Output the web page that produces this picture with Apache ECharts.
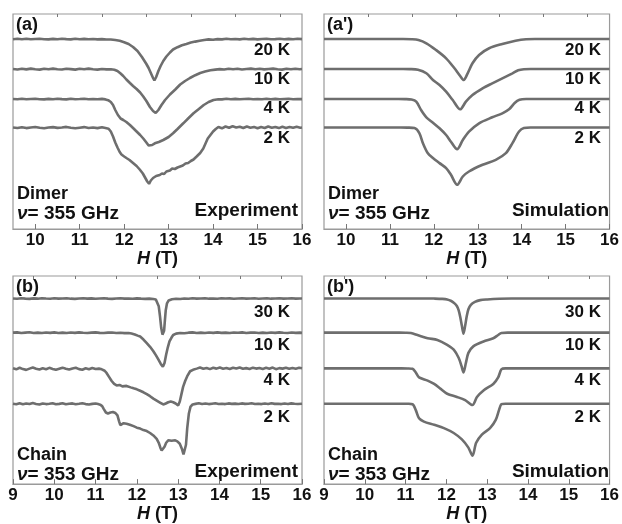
<!DOCTYPE html>
<html><head><meta charset="utf-8">
<script src="https://cdn.jsdelivr.net/npm/echarts@6/dist/echarts.min.js"></script>
<style>html,body{margin:0;padding:0;background:#fff}#c{width:622px;height:524px}</style>
</head><body><div id="c"></div>
<script>
// ---- data: [field H (T), absorption depth (arb.)] ----
const dimerTemps = ['20 K', '10 K', '4 K', '2 K'];
const chainTemps = ['30 K', '10 K', '4 K', '2 K'];
const dimerOffsets = [190, 160, 130, 101.5];
const chainOffsets = [190, 155, 118.5, 82.3];
const dimerTicks = [10, 11, 12, 13, 14, 15, 16];
const chainTicks = [9, 10, 11, 12, 13, 14, 15, 16];

const dimerExp20K = [[9.5,0.2],[9.6,-0.3],[9.7,0.2],[9.8,-0.2],[9.9,0.3],[10,0],[10.1,-0.3],[10.2,0.2],[10.3,0.4],[10.4,-0.1],[10.5,0.2],[10.6,-0.3],[10.7,0.1],[10.8,0.4],[10.9,-0.2],[11,0.2],[11.1,-0.1],[11.2,0.3],[11.3,0],[11.4,0.4],[11.5,0.1],[11.6,0.5],[11.7,0.5],[11.8,1],[11.9,1.8],[12,3.2],[12.1,5],[12.2,8],[12.3,12],[12.4,18],[12.5,25],[12.55,29],[12.6,34],[12.65,39],[12.68,41.5],[12.72,38],[12.77,32],[12.82,27],[12.88,22],[12.95,17.5],[13.03,13.5],[13.1,10.5],[13.2,8.2],[13.3,6.3],[13.4,5],[13.5,3.6],[13.6,2.6],[13.7,1.8],[13.8,1],[13.9,0.4],[14,0.7],[14.1,0.1],[14.2,0.4],[14.3,-0.2],[14.4,0.3],[14.5,0],[14.6,0.4],[14.7,-0.2],[14.8,0.3],[14.9,-0.1],[15,0.4],[15.1,0],[15.2,-0.3],[15.3,0.3],[15.4,0.1],[15.5,-0.2],[15.6,0.3],[15.7,-0.1],[15.8,0.2],[15.9,-0.2],[16,0.1]];
const dimerExp10K = [[9.5,0],[9.6,0.5],[9.7,-0.3],[9.8,0.4],[9.9,-0.4],[10,0.3],[10.1,0.6],[10.2,-0.2],[10.3,0.3],[10.4,-0.4],[10.5,0.2],[10.6,0.5],[10.7,-0.3],[10.8,0.1],[10.9,0.6],[11,-0.2],[11.1,0.3],[11.2,-0.4],[11.3,0.2],[11.4,0.6],[11.5,0],[11.6,0.4],[11.7,0.2],[11.78,0.8],[11.85,2],[11.92,4.5],[11.98,7],[12.05,10.5],[12.13,14],[12.2,17],[12.28,20],[12.36,23.5],[12.43,27.5],[12.5,32],[12.58,38],[12.65,42],[12.71,44],[12.77,41],[12.84,36],[12.92,31],[13.03,25.5],[13.15,20.5],[13.26,15.5],[13.37,12],[13.48,9],[13.6,6.2],[13.71,4],[13.82,2.6],[13.94,1.2],[14.05,0.6],[14.15,0.1],[14.25,0.5],[14.35,-0.3],[14.45,0.3],[14.55,-0.2],[14.65,0.5],[14.75,0],[14.85,-0.4],[14.95,0.3],[15.05,-0.2],[15.15,0.4],[15.25,0],[15.35,-0.4],[15.45,0.3],[15.55,0.6],[15.65,-0.2],[15.75,0.3],[15.85,-0.3],[15.95,0.2],[16,0]];
const dimerExp4K = [[9.5,0],[9.6,0.3],[9.7,-0.2],[9.8,0.3],[9.9,0],[10,-0.3],[10.1,0.2],[10.2,0.4],[10.3,-0.1],[10.4,0.2],[10.5,-0.3],[10.6,0.1],[10.7,0.4],[10.8,-0.2],[10.9,0.2],[11,0],[11.1,-0.3],[11.2,0.3],[11.3,0],[11.4,0.3],[11.5,-0.1],[11.58,0.4],[11.64,1.2],[11.7,3],[11.75,6],[11.8,11],[11.86,16],[11.92,19.5],[11.98,21],[12.05,23],[12.13,26],[12.2,29],[12.28,32.5],[12.36,36],[12.43,39.5],[12.5,43.5],[12.55,46.5],[12.58,47.7],[12.63,46],[12.69,44.3],[12.78,43],[12.88,41],[13,38],[13.1,34.3],[13.2,30],[13.33,24.3],[13.45,19],[13.56,14.3],[13.68,10],[13.79,6],[13.9,3],[14.01,1],[14.12,0.2],[14.2,0.4],[14.3,-0.2],[14.4,0.2],[14.5,-0.1],[14.6,0.3],[14.7,0],[14.8,-0.3],[14.9,0.2],[15,0],[15.1,0.3],[15.2,-0.2],[15.3,0.2],[15.4,-0.1],[15.5,0.3],[15.6,0],[15.7,-0.2],[15.8,0.2],[15.9,0],[16,0.1]];
const dimerExp2K = [[9.5,0],[9.6,0.5],[9.7,-0.3],[9.8,0.6],[9.9,0],[10,-0.5],[10.1,0.3],[10.2,0.8],[10.3,0],[10.4,-0.4],[10.5,0.4],[10.6,0],[10.7,-0.6],[10.8,0.3],[10.9,0.8],[11,0.2],[11.1,-0.4],[11.2,0.5],[11.3,0],[11.4,0.6],[11.5,-0.2],[11.58,0.5],[11.65,1.2],[11.7,4],[11.75,9],[11.8,15],[11.85,20],[11.9,24.5],[11.94,27],[12,29],[12.05,30.5],[12.12,32.5],[12.2,35.5],[12.28,38.5],[12.35,42],[12.42,46],[12.47,50],[12.52,54],[12.56,56.3],[12.6,53],[12.65,50.5],[12.72,48.5],[12.8,47.5],[12.85,46],[12.9,46.5],[12.95,44],[13.03,43],[13.08,41],[13.14,41.5],[13.2,40],[13.26,39],[13.32,38],[13.38,36],[13.44,35.5],[13.5,33.5],[13.56,32],[13.63,29],[13.71,25.5],[13.78,21],[13.83,16],[13.88,11],[13.94,7.5],[14,4],[14.06,1.5],[14.12,-0.5],[14.2,0.8],[14.28,-1],[14.36,0.3],[14.44,-1.2],[14.52,0],[14.6,-0.8],[14.68,0.5],[14.76,-1],[14.84,0.2],[14.92,-0.6],[15,0.8],[15.08,-0.4],[15.16,0.5],[15.24,-1],[15.32,0.2],[15.4,-0.6],[15.48,0.6],[15.56,-0.8],[15.64,0.4],[15.72,-0.5],[15.8,0.3],[15.88,-0.7],[15.96,0.2],[16,0]];

const dimerSim20K = [[9.5,0],[11.3,0],[11.5,0.2],[11.65,1],[11.83,4.3],[12.05,11],[12.28,19.3],[12.47,29.3],[12.6,37],[12.68,41],[12.77,34.3],[12.88,24.3],[13.03,16],[13.26,9.3],[13.56,5],[13.86,1.7],[14.1,0.2],[14.3,0],[16,0]];
const dimerSim10K = [[9.5,0],[11.3,0],[11.45,0.1],[11.64,0.8],[11.83,4.3],[11.98,11],[12.13,16],[12.28,22.7],[12.43,31],[12.6,40.3],[12.73,32.7],[12.88,26],[13.11,19.3],[13.33,14.3],[13.56,9.3],[13.79,4.3],[13.92,1.3],[14.05,0.2],[14.2,0],[16,0]];
const dimerSim4K = [[9.5,0],[11.2,0],[11.35,0.1],[11.49,0.6],[11.6,2.7],[11.71,11],[11.83,18.3],[11.98,23.7],[12.13,29.3],[12.28,36],[12.39,42.7],[12.53,50.3],[12.66,41],[12.8,32.7],[13.03,24.3],[13.33,18.3],[13.56,14.3],[13.72,10],[13.84,4],[13.95,0.8],[14.1,0],[16,0]];
const dimerSim2K = [[9.5,0],[11.25,0],[11.4,0.1],[11.56,0.6],[11.67,5.6],[11.75,15.6],[11.86,25.6],[11.98,30.6],[12.13,35.6],[12.28,40.6],[12.39,47.3],[12.53,57.3],[12.66,49],[12.8,44],[13.11,37.3],[13.41,32.3],[13.64,25.6],[13.79,15.6],[13.94,4],[14.05,0.5],[14.2,0],[16,0]];

const chainExp30K = [[9,0],[9.1,0.3],[9.2,-0.2],[9.3,0.2],[9.4,0.4],[9.5,-0.1],[9.6,0.2],[9.7,-0.3],[9.8,0.1],[9.9,0.3],[10,-0.2],[10.1,0.2],[10.2,0],[10.3,-0.3],[10.4,0.2],[10.5,0.4],[10.6,0],[10.7,-0.2],[10.8,0.2],[10.9,-0.1],[11,0.3],[11.1,0],[11.2,-0.2],[11.3,0.2],[11.4,0.4],[11.5,0],[11.6,-0.2],[11.7,0.2],[11.8,0],[11.9,0.3],[12,-0.1],[12.1,0.2],[12.2,0.4],[12.3,0.2],[12.4,0.5],[12.46,1],[12.5,3],[12.53,8],[12.56,18],[12.59,30],[12.62,37],[12.64,39],[12.66,33],[12.68,22],[12.7,12],[12.73,5],[12.77,2],[12.85,0.8],[12.95,0.3],[13.05,0.5],[13.15,0],[13.25,0.3],[13.35,-0.2],[13.45,0.2],[13.55,0],[13.65,-0.3],[13.75,0.2],[13.85,0],[13.95,0.3],[14.05,-0.2],[14.15,0.1],[14.25,-0.1],[14.35,0.3],[14.45,0],[14.55,-0.2],[14.65,0.2],[14.75,0],[14.85,-0.2],[14.95,0.3],[15.05,0],[15.15,-0.3],[15.25,0.2],[15.35,0.1],[15.45,-0.2],[15.55,0.2],[15.65,0],[15.75,-0.2],[15.85,0.2],[15.95,0],[16,0.1]];
const chainExp10K = [[9,0],[9.1,-0.3],[9.2,0.4],[9.3,0],[9.4,-0.4],[9.5,0.3],[9.6,0],[9.7,0.4],[9.8,-0.2],[9.9,0.2],[10,-0.3],[10.1,0.3],[10.2,0],[10.3,0.4],[10.4,-0.1],[10.5,0.2],[10.6,-0.3],[10.7,0.1],[10.8,0.4],[10.9,0],[11,-0.3],[11.1,0.2],[11.2,0.4],[11.3,0],[11.4,-0.2],[11.5,0.3],[11.6,0.1],[11.7,0.5],[11.8,0.4],[11.87,0.9],[11.95,1.8],[12.02,3],[12.08,4],[12.16,7],[12.24,10.7],[12.32,14.5],[12.4,19],[12.46,23],[12.52,27.4],[12.58,32],[12.63,35],[12.67,31],[12.71,22.4],[12.75,15],[12.79,9],[12.84,5],[12.88,2.4],[12.95,1],[13.05,0.3],[13.15,0.6],[13.25,0],[13.35,-0.3],[13.45,0.3],[13.55,0],[13.65,0.4],[13.75,-0.2],[13.85,0.2],[13.95,-0.3],[14.05,0.2],[14.15,0],[14.25,0.4],[14.35,-0.2],[14.45,0.1],[14.55,-0.3],[14.65,0.3],[14.75,0],[14.85,-0.2],[14.95,0.3],[15.05,0],[15.15,0.4],[15.25,-0.2],[15.35,0.2],[15.45,-0.3],[15.55,0.1],[15.65,0.3],[15.75,-0.2],[15.85,0.2],[15.95,0],[16,0.2]];
const chainExp4K = [[9,0],[9.08,1],[9.16,-0.6],[9.24,0.8],[9.32,1.6],[9.4,0.3],[9.48,-0.8],[9.56,0.4],[9.64,1.2],[9.72,0],[9.8,0.9],[9.88,-0.5],[9.96,0.6],[10.04,1.5],[10.12,0.4],[10.2,-0.7],[10.28,0.5],[10.36,1.3],[10.44,0.2],[10.52,-0.6],[10.6,0.8],[10.68,1.4],[10.76,0],[10.84,0.9],[10.92,-0.4],[11,0.7],[11.08,0.3],[11.15,1],[11.22,2.5],[11.27,5],[11.33,9],[11.39,13],[11.45,16],[11.51,17.5],[11.58,17],[11.65,18.5],[11.75,18],[11.85,19.5],[11.92,20.5],[12,21.5],[12.08,23],[12.16,24.5],[12.24,26.4],[12.32,28.5],[12.4,31],[12.48,33],[12.56,35],[12.64,37],[12.7,36],[12.76,34.7],[12.82,34],[12.88,34.7],[12.94,36],[13,38],[13.04,34],[13.08,26.4],[13.12,19],[13.17,13],[13.22,8],[13.29,3],[13.36,1.5],[13.45,0.3],[13.53,-0.8],[13.61,0.5],[13.69,-0.4],[13.77,0.8],[13.85,-0.6],[13.93,0.3],[14.01,-0.9],[14.09,0.4],[14.17,-0.3],[14.25,0.7],[14.33,-0.6],[14.41,0.2],[14.49,-0.8],[14.57,0.5],[14.65,-0.2],[14.73,0.6],[14.81,-0.7],[14.89,0.3],[14.97,-0.4],[15.05,0.6],[15.13,-0.5],[15.21,0.4],[15.29,-0.8],[15.37,0.9],[15.45,-0.2],[15.53,0.3],[15.61,-0.6],[15.69,0.5],[15.77,-0.3],[15.85,0.4],[15.93,-0.5],[16,0]];
const chainExp2K = [[9,0],[9.08,0.6],[9.16,-0.4],[9.24,0.5],[9.32,-0.2],[9.4,0.4],[9.48,-0.6],[9.56,0.3],[9.64,0.8],[9.72,-0.3],[9.8,0.4],[9.88,0],[9.96,-0.5],[10.04,0.5],[10.12,0.2],[10.2,-0.4],[10.28,0.6],[10.36,0],[10.44,-0.3],[10.52,0.5],[10.6,0.1],[10.68,-0.4],[10.76,0.4],[10.84,0.8],[10.92,0.2],[11,-0.2],[11.06,0.4],[11.11,1],[11.16,2.5],[11.2,5.5],[11.25,9],[11.3,10],[11.36,9],[11.42,8.5],[11.48,9.5],[11.53,12],[11.57,18],[11.6,22],[11.64,22],[11.68,20],[11.75,20.5],[11.83,21.5],[11.92,23],[12,24.5],[12.08,25.5],[12.16,27],[12.24,28],[12.32,30],[12.4,32.5],[12.48,36],[12.53,40],[12.57,45],[12.6,48],[12.63,48.5],[12.67,44],[12.71,40],[12.76,37.5],[12.8,37],[12.84,38],[12.88,39],[12.93,37.5],[12.98,38.5],[13.04,41],[13.09,46],[13.13,52],[13.16,54],[13.19,42],[13.22,25],[13.26,10],[13.3,3],[13.35,0.8],[13.42,0.2],[13.5,-0.4],[13.58,0.3],[13.66,-0.2],[13.74,0.4],[13.82,0],[13.9,-0.4],[13.98,0.3],[14.06,0],[14.14,0.4],[14.22,-0.3],[14.3,0.2],[14.38,-0.1],[14.46,0.4],[14.54,-0.3],[14.62,0.2],[14.7,0],[14.78,-0.4],[14.86,0.3],[14.94,0],[15.02,0.4],[15.1,-0.2],[15.18,0.3],[15.26,-0.4],[15.34,0.2],[15.42,0],[15.5,0.4],[15.58,-0.2],[15.66,0.3],[15.74,-0.3],[15.82,0.1],[15.9,0.3],[16,0]];

const chainSim30K = [[9,0],[11.5,0],[11.7,0.1],[11.9,0.4],[12.02,1],[12.12,2.6],[12.2,5],[12.26,8],[12.3,12],[12.34,19],[12.38,28],[12.42,36],[12.46,28],[12.5,18],[12.54,11],[12.6,6.5],[12.7,3.5],[12.83,1.7],[13,1],[13.3,0.3],[13.6,0],[16,0]];
const chainSim10K = [[9,0],[10.85,0],[11.0,0.1],[11.13,0.4],[11.29,2.4],[11.54,5.7],[11.78,7.4],[12.02,12.4],[12.18,17.4],[12.3,25.7],[12.37,34],[12.42,40.7],[12.48,30.7],[12.54,20.7],[12.66,14],[12.91,9],[13.15,5.7],[13.27,2.4],[13.35,0.3],[13.5,0],[16,0]];
const chainSim4K = [[9,0],[10.9,0],[11.05,0.1],[11.17,0.5],[11.25,4.3],[11.33,9.3],[11.54,12.6],[11.7,16],[11.86,21],[12.02,26],[12.26,29.3],[12.46,32.6],[12.64,37.6],[12.75,29.3],[12.91,22.6],[13.15,16],[13.27,9.3],[13.35,1],[13.45,0],[16,0]];
const chainSim2K = [[9,0],[10.9,0],[11.05,0.1],[11.17,0.5],[11.25,6.6],[11.33,15],[11.45,18.3],[11.7,21.6],[11.94,25],[12.18,30],[12.38,36.6],[12.54,45],[12.64,53.3],[12.73,40],[12.87,31.6],[13.07,25],[13.21,16.6],[13.29,6.6],[13.35,0.5],[13.45,0],[16,0]];

// ---- chart ----
const FONT = '"Liberation Sans", Arial, sans-serif';
const LINE = '#6e6e6e';
const panels = [
  {grid:{left:13, top:14, width:289, height:215}, min:9.5, ticks:dimerTicks, minor:[10.5,11.5,12.5,13.5,14.5,15.5], offsets:dimerOffsets, curves:[dimerExp20K,dimerExp10K,dimerExp4K,dimerExp2K], smooth:false},
  {grid:{left:324, top:14, width:289, height:215}, min:9.5, ticks:dimerTicks, minor:[10.5,11.5,12.5,13.5,14.5,15.5], offsets:dimerOffsets, curves:[dimerSim20K,dimerSim10K,dimerSim4K,dimerSim2K], smooth:0.3},
  {grid:{left:13, top:276, width:289, height:213}, min:9, ticks:chainTicks, minor:[9.5,10.5,11.5,12.5,13.5,14.5,15.5], offsets:chainOffsets, curves:[chainExp30K,chainExp10K,chainExp4K,chainExp2K], smooth:false},
  {grid:{left:324, top:276, width:289, height:213}, min:9, ticks:chainTicks, minor:[9.5,10.5,11.5,12.5,13.5,14.5,15.5], offsets:chainOffsets, curves:[chainSim30K,chainSim10K,chainSim4K,chainSim2K], smooth:0.3}
];

const grid = [], xAxis = [], yAxis = [], series = [];
panels.forEach((p, i) => {
  grid.push(Object.assign({show:true, borderColor:'#9a9a9a', borderWidth:1.2, backgroundColor:'transparent', containLabel:false}, p.grid));
  xAxis.push({
    type:'value', gridIndex:i, min:p.min, max:16,
    axisLine:{show:true, lineStyle:{color:'#9a9a9a', width:1.2}},
    axisTick:{show:true, inside:true, length:5, customValues:p.ticks, lineStyle:{color:'#777', width:1}},
    axisLabel:{show:true, customValues:p.ticks, fontSize:17, fontWeight:'bold', color:'#111', fontFamily:FONT, margin:3},
    splitLine:{show:false},
    name:'{i|H} (T)', nameLocation:'middle', nameGap:16,
    nameTextStyle:{fontSize:18, fontWeight:'bold', color:'#111', fontFamily:FONT,
      rich:{i:{fontStyle:'italic', fontSize:18, fontWeight:'bold', color:'#111', fontFamily:FONT}}}
  });
  xAxis.push({
    type:'value', gridIndex:i, min:p.min, max:16,
    axisLine:{show:false},
    axisTick:{show:true, inside:true, length:3, customValues:p.minor, lineStyle:{color:'#777', width:1}},
    axisLabel:{show:false}, splitLine:{show:false}
  });
  yAxis.push({type:'value', gridIndex:i, min:0, max:p.grid.height, show:false, splitLine:{show:false}});
  p.curves.forEach((c, k) => {
    series.push({
      type:'line', xAxisIndex:2*i, yAxisIndex:i, showSymbol:false, symbol:'none',
      smooth:p.smooth, animation:false,
      lineStyle:{color:LINE, width:2.6},
      data:c.map(d => [d[0], p.offsets[k] - d[1]])
    });
  });
});

function txt(x, y, text, opt) {
  opt = opt || {};
  return {type:'text', x:x, y:y, silent:true, style:Object.assign({
    text:text, fill:'#111', font:'bold ' + (opt.size || 18) + 'px ' + FONT,
    textAlign:opt.align || 'left', textVerticalAlign:'middle'}, opt.rich ? {rich:opt.rich} : {})};
}
const nuRich = {n:{fontStyle:'italic', fontWeight:'bold', fontSize:19, fontFamily:FONT, fill:'#111'}};
const graphic = [];
[[0, '(a)', dimerTemps, [50,79,108,138], 'Dimer', '355', 'Experiment', 14, 194, 214, 211],
 [311, "(a')", dimerTemps, [50,79,108,138], 'Dimer', '355', 'Simulation', 14, 194, 214, 211],
 [0, '(b)', chainTemps, [312,345,380,417], 'Chain', '353', 'Experiment', 276, 455, 475, 472],
 [311, "(b')", chainTemps, [312,345,380,417], 'Chain', '353', 'Simulation', 276, 455, 475, 472]
].forEach(r => {
  const dx = r[0];
  graphic.push(txt(dx + 16, r[7] + 11, r[1]));
  r[2].forEach((t, k) => graphic.push(txt(dx + 290, r[3][k], t, {align:'right', size:17})));
  graphic.push(txt(dx + 17, r[8], r[4]));
  graphic.push(txt(dx + 17, r[9], '{n|ν}= ' + r[5] + ' GHz', {rich:nuRich, size:19}));
  graphic.push(txt(dx + 298, r[10], r[6], {align:'right', size:19}));
});

const chart = echarts.init(document.getElementById('c'), null, {renderer:'canvas'});
chart.setOption({animation:false, grid, xAxis, yAxis, series, graphic});
</script></body></html>
